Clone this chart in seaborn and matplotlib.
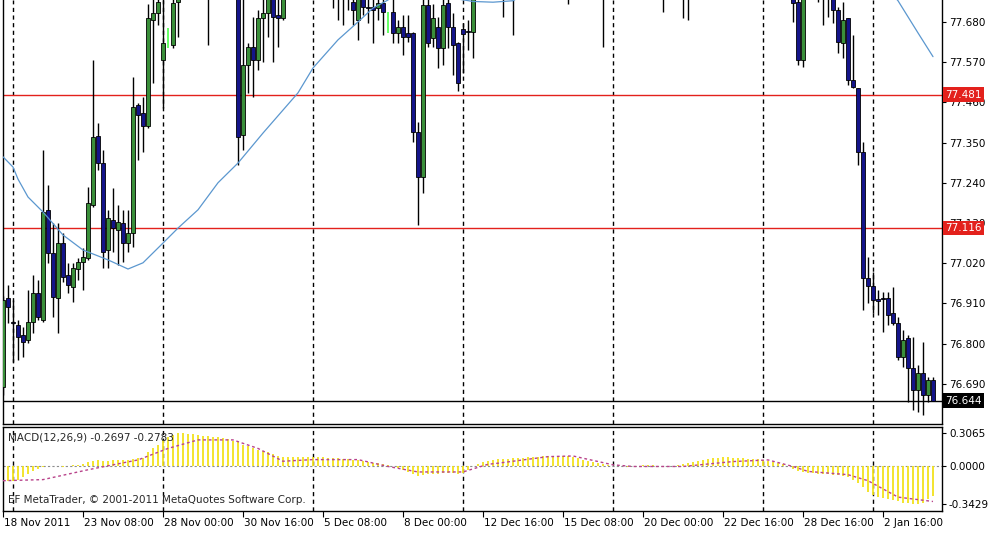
import numpy as np
import pandas as pd
import seaborn as sns
import matplotlib.pyplot as plt
from matplotlib.transforms import ScaledTranslation

# H4 bars, 18 Nov 2011 16:00 -> 3 Jan 2012 (bars above 77.74 are cut off in the source)
opens = [
    76.680, 76.925, 76.860, 76.851, 76.824, 76.810, 76.859, 76.939, 76.865, 77.166,
    77.048, 76.925, 77.075, 76.988, 76.955, 77.004, 77.024, 77.034, 77.179, 77.368,
    77.294, 77.056, 77.139, 77.111, 77.130, 77.075, 77.103, 77.453, 77.431, 77.396,
    77.685, 77.704, 77.576, 77.650, 77.617, 77.735, 77.790, 77.850, 77.920, 77.880,
    77.900, 77.840, 77.800, 77.900, 77.950, 77.920, 77.940, 77.960, 77.371, 77.562,
    77.612, 77.576, 77.691, 77.704, 77.770, 77.700, 77.691, 77.760, 77.820, 77.860,
    77.840, 77.900, 77.860, 77.830, 77.870, 77.820, 77.800, 77.780, 77.770, 77.760,
    77.735, 77.685, 77.760, 77.720, 77.720, 77.718, 77.731, 77.700, 77.707, 77.650,
    77.665, 77.650, 77.650, 77.379, 77.256, 77.727, 77.636, 77.666, 77.609, 77.732,
    77.666, 77.623, 77.660, 77.653, 77.653, 77.760, 77.820, 77.870, 77.840, 77.800,
    77.830, 77.780, 77.820, 77.800, 77.850, 77.900, 77.880, 77.930, 77.960, 77.940,
    77.980, 77.950, 77.920, 77.900, 77.860, 77.880, 77.850, 77.830, 77.860, 77.840,
    77.820, 77.800, 77.840, 77.860, 77.880, 77.850, 77.830, 77.860, 77.840, 77.820,
    77.850, 77.870, 77.830, 77.800, 77.840, 77.870, 77.830, 77.810, 77.840, 77.880,
    77.910, 77.940, 77.960, 77.930, 77.970, 77.990, 77.960, 77.940, 77.970, 77.950,
    77.930, 77.960, 77.940, 77.920, 77.900, 77.880, 77.860, 77.840, 77.820, 77.735,
    77.576, 77.780, 77.820, 77.790, 77.770, 77.780, 77.760, 77.713, 77.623, 77.691,
    77.521, 77.499, 77.324, 76.980, 76.958, 76.921, 76.925, 76.925, 76.884, 76.856,
    76.763, 76.815, 76.733, 76.673, 76.720, 76.660, 76.700]
highs = [
    76.930, 76.960, 76.919, 76.865, 76.846, 76.947, 76.988, 76.974, 77.330, 77.234,
    77.130, 77.130, 77.103, 77.021, 77.021, 77.035, 77.062, 77.229, 77.576, 77.404,
    77.330, 77.166, 77.226, 77.179, 77.166, 77.166, 77.530, 77.458, 77.475, 77.730,
    77.790, 77.800, 77.780, 77.663, 77.800, 77.820, 77.900, 77.950, 77.980, 77.960,
    77.970, 77.920, 77.930, 78.000, 78.020, 77.980, 78.000, 77.990, 77.800, 77.623,
    77.694, 77.713, 77.760, 77.800, 77.800, 77.780, 77.800, 77.850, 77.900, 77.920,
    77.930, 77.960, 77.920, 77.900, 77.950, 77.880, 77.860, 77.840, 77.830, 77.800,
    77.790, 77.790, 77.800, 77.780, 77.770, 77.770, 77.780, 77.707, 77.760, 77.685,
    77.700, 77.700, 77.653, 77.406, 77.780, 77.760, 77.730, 77.694, 77.760, 77.760,
    77.704, 77.625, 77.677, 77.685, 77.800, 77.850, 77.900, 77.920, 77.880, 77.860,
    77.880, 77.850, 77.860, 77.880, 77.920, 77.960, 77.950, 78.000, 78.020, 78.000,
    78.040, 78.000, 77.980, 77.950, 77.920, 77.940, 77.900, 77.880, 77.910, 77.890,
    77.880, 77.860, 77.900, 77.920, 77.930, 77.900, 77.890, 77.920, 77.880, 77.870,
    77.910, 77.920, 77.880, 77.860, 77.900, 77.920, 77.880, 77.860, 77.900, 77.940,
    77.970, 78.000, 78.020, 77.990, 78.030, 78.050, 78.010, 78.000, 78.020, 78.000,
    77.980, 78.010, 77.990, 77.970, 77.950, 77.930, 77.910, 77.890, 77.860, 77.760,
    77.800, 77.850, 77.880, 77.840, 77.830, 77.820, 77.790, 77.720, 77.735, 77.691,
    77.645, 77.500, 77.352, 77.037, 76.996, 76.947, 76.940, 76.940, 76.955, 76.873,
    76.837, 76.823, 76.818, 76.742, 76.805, 76.709, 76.709]
lows = [
    76.660, 76.856, 76.750, 76.755, 76.763, 76.802, 76.829, 76.865, 76.859, 77.021,
    76.873, 76.829, 76.969, 76.939, 76.914, 76.974, 76.947, 77.029, 77.175, 77.275,
    77.007, 77.007, 77.051, 77.015, 77.024, 77.051, 77.064, 77.302, 77.324, 77.390,
    77.513, 77.672, 77.445, 77.609, 77.609, 77.639, 77.760, 77.800, 77.850, 77.820,
    77.800, 77.617, 77.760, 77.860, 77.880, 77.850, 77.870, 77.289, 77.330, 77.486,
    77.475, 77.549, 77.571, 77.639, 77.571, 77.612, 77.685, 77.750, 77.780, 77.800,
    77.790, 77.830, 77.780, 77.770, 77.800, 77.760, 77.718, 77.685, 77.672, 77.713,
    77.672, 77.631, 77.700, 77.677, 77.623, 77.685, 77.645, 77.650, 77.623, 77.623,
    77.590, 77.625, 77.352, 77.125, 77.212, 77.612, 77.612, 77.554, 77.562, 77.609,
    77.535, 77.490, 77.540, 77.603, 77.580, 77.750, 77.780, 77.800, 77.770, 77.760,
    77.694, 77.750, 77.645, 77.760, 77.800, 77.840, 77.830, 77.880, 77.900, 77.880,
    77.920, 77.880, 77.850, 77.730, 77.800, 77.820, 77.790, 77.770, 77.800, 77.780,
    77.612, 77.760, 77.780, 77.810, 77.820, 77.790, 77.780, 77.800, 77.790, 77.770,
    77.800, 77.810, 77.707, 77.760, 77.790, 77.800, 77.690, 77.685, 77.790, 77.820,
    77.850, 77.880, 77.900, 77.870, 77.910, 77.930, 77.900, 77.880, 77.910, 77.890,
    77.870, 77.900, 77.880, 77.860, 77.840, 77.820, 77.800, 77.780, 77.680, 77.562,
    77.557, 77.750, 77.760, 77.735, 77.672, 77.694, 77.677, 77.595, 77.580, 77.508,
    77.500, 77.289, 76.892, 76.911, 76.884, 76.878, 76.832, 76.851, 76.851, 76.755,
    76.736, 76.640, 76.618, 76.613, 76.605, 76.640, 76.644]
closes = [
    76.920, 76.900, 76.856, 76.818, 76.804, 76.859, 76.939, 76.873, 77.160, 77.048,
    76.928, 77.075, 76.982, 76.960, 77.007, 77.024, 77.037, 77.185, 77.365, 77.294,
    77.051, 77.144, 77.116, 77.133, 77.075, 77.103, 77.447, 77.426, 77.396, 77.691,
    77.704, 77.735, 77.623, 77.620, 77.732, 77.790, 77.850, 77.920, 77.880, 77.900,
    77.840, 77.800, 77.900, 77.950, 77.920, 77.940, 77.960, 77.365, 77.562, 77.612,
    77.576, 77.691, 77.704, 77.760, 77.694, 77.690, 77.760, 77.820, 77.860, 77.840,
    77.900, 77.880, 77.830, 77.870, 77.820, 77.800, 77.780, 77.770, 77.760, 77.745,
    77.713, 77.760, 77.720, 77.719, 77.713, 77.731, 77.707, 77.660, 77.650, 77.665,
    77.640, 77.640, 77.379, 77.256, 77.727, 77.623, 77.691, 77.609, 77.727, 77.666,
    77.617, 77.513, 77.647, 77.652, 77.760, 77.820, 77.870, 77.840, 77.800, 77.830,
    77.780, 77.820, 77.800, 77.850, 77.900, 77.880, 77.930, 77.960, 77.940, 77.980,
    77.950, 77.920, 77.900, 77.860, 77.880, 77.850, 77.830, 77.860, 77.840, 77.820,
    77.800, 77.840, 77.860, 77.880, 77.850, 77.830, 77.860, 77.840, 77.820, 77.850,
    77.870, 77.830, 77.800, 77.840, 77.870, 77.830, 77.810, 77.840, 77.880, 77.910,
    77.940, 77.960, 77.930, 77.970, 77.990, 77.960, 77.940, 77.970, 77.950, 77.930,
    77.960, 77.940, 77.920, 77.900, 77.880, 77.860, 77.840, 77.820, 77.733, 77.576,
    77.780, 77.820, 77.790, 77.770, 77.780, 77.760, 77.713, 77.625, 77.685, 77.521,
    77.502, 77.324, 76.980, 76.958, 76.919, 76.917, 76.922, 76.878, 76.856, 76.763,
    76.810, 76.733, 76.673, 76.720, 76.660, 76.700, 76.644]
lime_bars = [33, 77]  # two bars drawn as lime marks

# moving average, read at a few bars
ma_idx = [0, 2, 3, 5, 8, 12, 16, 21, 25, 28, 32, 35, 39, 43, 47, 52, 59, 62, 67, 71, 74, 77,
          80, 86, 90, 94, 98, 102, 106, 120, 140, 160, 170, 175, 179, 183, 186]
ma_val = [77.311, 77.283, 77.250, 77.201, 77.160, 77.097, 77.056, 77.029, 77.004, 77.021,
          77.075, 77.116, 77.166, 77.240, 77.294, 77.376, 77.486, 77.554, 77.631, 77.680,
          77.718, 77.740, 77.780, 77.760, 77.745, 77.736, 77.734, 77.738, 77.770, 77.860,
          77.900, 77.920, 77.880, 77.800, 77.738, 77.650, 77.585]

# MACD(12,26,9) histogram, one value per bar
macd_hist = [
    -0.13, -0.13, -0.13, -0.125,
    -0.10, -0.07, -0.04, -0.02, -0.005, 0.005, 0.005, 0.0, -0.005, 0.0, 0.01, 0.015, 0.02,
    0.04, 0.05, 0.055, 0.05, 0.05, 0.055, 0.055, 0.06, 0.06, 0.07, 0.075, 0.08,
    0.13, 0.165, 0.20, 0.24, 0.27, 0.29,
    0.31, 0.31, 0.30, 0.30, 0.29, 0.28,
    0.28, 0.27, 0.27, 0.26, 0.25, 0.23,
    0.22, 0.20, 0.19, 0.17, 0.15, 0.14, 0.13, 0.11, 0.10,
    0.09, 0.09, 0.085, 0.09, 0.09, 0.09, 0.085, 0.09, 0.09, 0.08, 0.08,
    0.075, 0.07, 0.065, 0.06, 0.055, 0.05, 0.045,
    0.035, 0.03, 0.02, 0.01, 0.0, -0.01,
    -0.03, -0.05, -0.07, -0.09, -0.08, -0.07, -0.07, -0.07, -0.06, -0.06, -0.06, -0.07, -0.06,
    -0.03, 0.0, 0.02, 0.04, 0.05, 0.06, 0.07,
    0.07, 0.07, 0.08, 0.08, 0.08, 0.09, 0.09, 0.09, 0.10, 0.10, 0.10, 0.10, 0.10, 0.10, 0.09, 0.08,
    0.06, 0.05, 0.04, 0.03, 0.02, 0.01, 0.0,
    0.005, 0.0, -0.005, 0.0, 0.005, 0.01, 0.01, 0.01, 0.005, 0.0, 0.0, 0.005, 0.01, 0.02, 0.03, 0.04, 0.05,
    0.06, 0.07, 0.08, 0.08, 0.09, 0.09, 0.08, 0.08, 0.08, 0.07, 0.07, 0.07, 0.06,
    0.05, 0.04, 0.03, 0.02, 0.0, -0.02,
    -0.04, -0.05, -0.06, -0.06, -0.07, -0.07, -0.07, -0.08, -0.08, -0.09,
    -0.10, -0.12, -0.15, -0.19, -0.23,
    -0.26, -0.28, -0.29, -0.30, -0.31, -0.32, -0.33, -0.33, -0.34, -0.34, -0.33, -0.30, -0.27]
sig_idx = [0, 8, 17, 27, 33, 39, 46, 51, 56, 62, 71, 77, 83, 92, 97, 99, 109, 114, 122, 126,
           136, 146, 153, 158, 161, 169, 173, 179, 186]
sig_val = [-0.13, -0.12, -0.03, 0.06, 0.165, 0.243, 0.243, 0.165, 0.048, 0.063, 0.063, 0.0,
           -0.05, -0.05, 0.02, 0.03, 0.09, 0.096, 0.015, 0.0, 0.0, 0.045, 0.06, 0.0, -0.045,
           -0.075, -0.13, -0.28, -0.32]

price_ticks = [77.680, 77.570, 77.460, 77.350, 77.240, 77.130, 77.020, 76.910, 76.800, 76.690]
macd_ticks = [0.3065, 0.0, -0.3429]
level_lines = [77.481, 77.116]
bid_price = 76.644
week_seps = [2, 32, 62, 92, 122, 152, 174]
date_pos = [0, 16, 32, 48, 64, 80, 96, 112, 128, 144, 160, 176]
date_labels = ["18 Nov 2011", "23 Nov 08:00", "28 Nov 00:00", "30 Nov 16:00", "5 Dec 08:00",
               "8 Dec 00:00", "12 Dec 16:00", "15 Dec 08:00", "20 Dec 00:00", "22 Dec 16:00",
               "28 Dec 16:00", "2 Jan 16:00"]

df = pd.DataFrame({"open": opens, "high": highs, "low": lows, "close": closes})
df["bar"] = np.arange(len(df))

sns.set_theme(style="white")
plt.rcParams["font.family"] = ["DejaVu Sans"]
plt.rcParams["font.size"] = 7.5

W, H = 1001, 538
fig = plt.figure(figsize=(W / 100, H / 100), dpi=100)
ax = fig.add_axes([3 / W, 1 - 424 / H, 939 / W, 424 / H])
ax2 = fig.add_axes([3 / W, 1 - 511 / H, 939 / W, 84 / H])

GREEN, BLUE = "#3a8f3a", "#14148a"
sep_style = dict(color="black", lw=1, ls=(0, (3, 2.5)), zorder=1)

# --- price panel ---
for s in week_seps:
    ax.axvline(s, **sep_style)
for lv in level_lines:
    ax.axhline(lv, color="#e3211c", lw=1, zorder=2)
ax.axhline(bid_price, color="black", lw=1, zorder=2)

normal = df[~df["bar"].isin(lime_bars)]
lime = df[df["bar"].isin(lime_bars)]
ax.vlines(normal["bar"], normal["low"], normal["high"], color="black", lw=1, zorder=3)
ax.vlines(lime["bar"], lime["low"], lime["high"], color="#4cff4c", lw=1.2, zorder=3)
body_lo = np.minimum(normal["open"], normal["close"])
body_h = np.maximum(np.abs(normal["close"] - normal["open"]), 0.003)
colors = np.where(normal["close"] >= normal["open"], GREEN, BLUE)
ax.bar(normal["bar"], body_h, bottom=body_lo, width=0.64, color=colors,
       edgecolor="black", linewidth=0.6, zorder=4)

sns.lineplot(x=ma_idx, y=ma_val, ax=ax, color="#5b97cf", lw=0.9, zorder=5)

ax.set_xlim(0, 187.8)
ax.set_ylim(76.580, 77.740)
ax.set_xticks([])
ax.yaxis.tick_right()
ax.set_yticks(price_ticks)
ax.set_yticklabels([f"{v:.3f}" for v in price_ticks])
ax.tick_params(axis="y", right=True, direction="out", length=3, width=0.8, pad=2,
               labelsize=7.5, colors="black")
ax.set_xlabel("")
ax.set_ylabel("")
for side in ["left", "right", "bottom"]:
    ax.spines[side].set_color("black")
    ax.spines[side].set_linewidth(1)
ax.spines["top"].set_visible(False)

box = dict(boxstyle="square,pad=0.22", linewidth=0)
for lv in level_lines:
    ax.text(1.003, lv, f"{lv:.3f}", transform=ax.get_yaxis_transform(), color="white",
            fontsize=7.5, va="center", ha="left", clip_on=False, zorder=20,
            bbox=dict(box, facecolor="#e3211c"))
ax.text(1.003, bid_price, f"{bid_price:.3f}", transform=ax.get_yaxis_transform(),
        color="white", fontsize=7.5, va="center", ha="left", clip_on=False, zorder=20,
        bbox=dict(box, facecolor="black"))

# --- MACD panel ---
for s in week_seps:
    ax2.axvline(s, **sep_style)
ax2.axhline(0, color="#8c8c8c", lw=0.8, ls=(0, (2, 2)), zorder=1)
ax2.vlines(df["bar"], 0, macd_hist, color="#f2e21c", lw=1.3, zorder=2)
sns.lineplot(x=sig_idx, y=sig_val, ax=ax2, color="#b8428a", lw=1, zorder=3,
             linestyle=(0, (2, 2)))
ax2.set_xlim(0, 187.8)
ax2.set_ylim(-0.407, 0.361)
ax2.yaxis.tick_right()
ax2.set_yticks(macd_ticks)
ax2.set_yticklabels([f"{v:.4f}" for v in macd_ticks])
ax2.tick_params(axis="y", right=True, direction="out", length=3, width=0.8, pad=2,
                labelsize=7.5, colors="black")
ax2.set_xticks(date_pos)
ax2.set_xticklabels(date_labels, ha="left")
ax2.tick_params(axis="x", bottom=True, direction="out", length=4, width=0.8, pad=1,
                labelsize=7.5, colors="black")
shift = ScaledTranslation(1 / 100, 0, fig.dpi_scale_trans)
for lab in ax2.get_xticklabels():
    lab.set_transform(lab.get_transform() + shift)
ax2.set_xlabel("")
ax2.set_ylabel("")
for side in ax2.spines:
    ax2.spines[side].set_color("black")
    ax2.spines[side].set_linewidth(1)

ax2.text(0.005, 0.88, "MACD(12,26,9) -0.2697 -0.2783", transform=ax2.transAxes,
         fontsize=7.5, va="center", ha="left")
ax2.text(0.005, 0.13, "EF MetaTrader, \u00a9 2001-2011 MetaQuotes Software Corp.",
         transform=ax2.transAxes, fontsize=7.5, va="center", ha="left")

fig.savefig("out.png", dpi=100, facecolor="white")
